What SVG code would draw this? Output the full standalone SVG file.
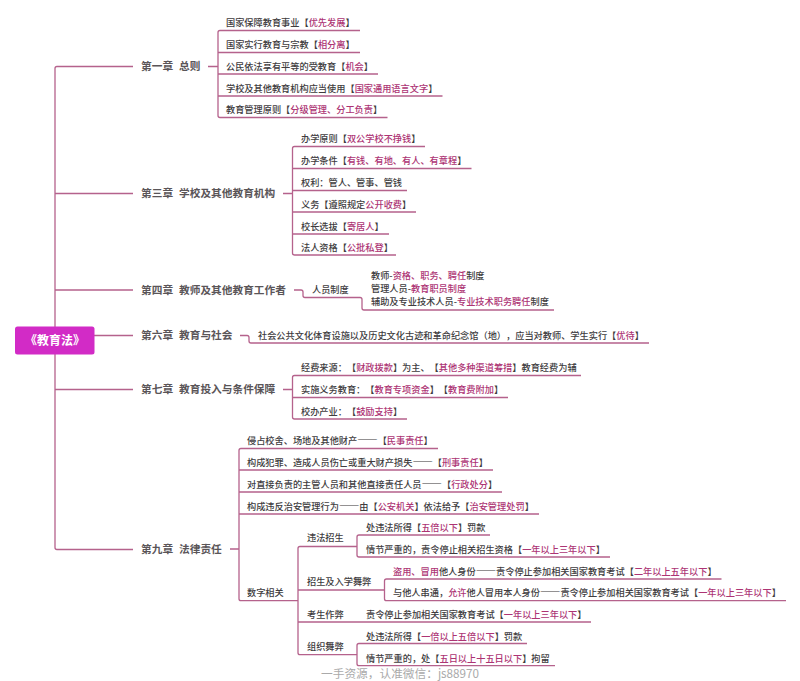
<svg xmlns="http://www.w3.org/2000/svg" width="800" height="681" viewBox="0 0 800 681" xml:lang="zh-CN">
<style>
text{font-family:"Noto Sans CJK SC","Noto Sans",sans-serif;font-size:9.2px;font-weight:500;fill:#403c3e;text-spacing-trim:space-all}
.h{fill:#ad3474}
.d{font-feature-settings:"fwid";font-size:10.2px}
.c{font-size:10.7px;font-weight:700;fill:#5a5558}
.r{font-size:12px;font-weight:700;fill:#fff;text-anchor:middle}
.w{font-size:11.7px;font-weight:400;fill:#aaa}
#connectors path{fill:none;stroke:#b5628c;stroke-width:1.3}
</style>
<rect width="800" height="681" fill="#fff"/>
<g id="connectors">
<path d="M133 66.5H57q-2 0-2 2V547.500q0 2 2 2H133M55 193.500H133M55 290H133M94 335.500H133M55 389.500H133"/>
<path d="M208 66.500H218M360 30.500H220q-2 0-2 2V115.500q0 2 2 2H387.500M218 52.500H360M218 74H378M218 96H442.500"/>
<path d="M283 193.500H292.500M425 146.500H294.500q-2 0-2 2V253q0 2 2 2H396M292.500 168.500H471.500M292.500 190.500H407M292.500 212H416M292.500 234H389"/>
<path d="M294 290H301q2 0 2 2V295.500q0 2 2 2H360q2 0 2 2V308q0 2 2 2H554"/>
<path d="M240 335.500H247q2 0 2 2V341q0 2 2 2H649"/>
<path d="M283 389.500H292.500M581 375.500H294.500q-2 0-2 2V417q0 2 2 2H407M292.500 397.500H508"/>
<path d="M230 549H239M438 448.500H241q-2 0-2 2V598.700q0 2 2 2H298M239 470H493M239 492H502M239 514H539"/>
<path d="M357 546.500H300q-2 0-2 2V652.700q0 2 2 2H357M298 590H384.500M298 622H591"/>
<path d="M490 535H359q-2 0-2 2V555q0 2 2 2H610"/>
<path d="M721.500 579H386.500q-2 0-2 2V598.700q0 2 2 2H786"/>
<path d="M527 643.500H359q-2 0-2 2V663.700q0 2 2 2H555"/>
</g>
<g id="root"><rect x="15" y="326.500" width="79.500" height="28" rx="2.500" fill="#d22bc6"/><text class="r" x="55" y="345">《教育法》</text></g>

<g id="ch1"><text class="c" x="141" y="70">第一章<tspan x="179">总则</tspan></text>
<text x="226" y="26.300">国家保障教育事业【<tspan class="h">优先发展</tspan>】</text>
<text x="226" y="48.300">国家实行教育与宗教【<tspan class="h">相分离</tspan>】</text>
<text x="226" y="69.800">公民依法享有平等的受教育【<tspan class="h">机会</tspan>】</text>
<text x="226" y="91.800">学校及其他教育机构应当使用【<tspan class="h">国家通用语言文字</tspan>】</text>
<text x="226" y="113.300">教育管理原则【<tspan class="h">分级管理、分工负责</tspan>】</text></g>

<g id="ch3"><text class="c" x="141" y="197">第三章<tspan x="179">学校及其他教育机构</tspan></text>
<text x="301" y="142.300">办学原则【<tspan class="h">双公学校不挣钱</tspan>】</text>
<text x="301" y="164.300">办学条件【<tspan class="h">有钱、有地、有人、有章程</tspan>】</text>
<text x="301" y="186.300">权利：管人、管事、管钱</text>
<text x="301" y="208.300">义务【遵照规定<tspan class="h">公开收费</tspan>】</text>
<text x="301" y="230">校长选拔【<tspan class="h">寄居人</tspan>】</text>
<text x="301" y="251.300">法人资格【<tspan class="h">公批私登</tspan>】</text></g>

<g id="ch4"><text class="c" x="141" y="293.800">第四章<tspan x="179">教师及其他教育工作者</tspan></text>
<text x="312" y="293.300">人员制度</text>
<text x="371" y="279.300">教师-<tspan class="h">资格、职务、聘任</tspan>制度</text>
<text x="371" y="292.300">管理人员-<tspan class="h">教育职员制度</tspan></text>
<text x="371" y="305.300">辅助及专业技术人员-<tspan class="h">专业技术职务聘任</tspan>制度</text></g>

<g id="ch6"><text class="c" x="141" y="339.300">第六章<tspan x="179">教育与社会</tspan></text>
<text x="258" y="339.300">社会公共文化体育设施以及历史文化古迹和革命纪念馆（地），应当对教师、学生实行【<tspan class="h">优待</tspan>】</text></g>

<g id="ch7"><text class="c" x="141" y="393.300">第七章<tspan x="179">教育投入与条件保障</tspan></text>
<text x="301" y="371.300">经费来源：【<tspan class="h">财政拨款</tspan>】为主、【<tspan class="h">其他多种渠道筹措</tspan>】教育经费为辅</text>
<text x="301" y="393.300">实施义务教育：【<tspan class="h">教育专项资金</tspan>】【<tspan class="h">教育费附加</tspan>】</text>
<text x="301" y="415.300">校办产业：【<tspan class="h">鼓励支持</tspan>】</text></g>

<g id="ch9"><text class="c" x="141" y="553">第九章<tspan x="179">法律责任</tspan></text>
<text x="247" y="444.300">侵占校舍、场地及其他财产<tspan class="d">——</tspan>【<tspan class="h">民事责任</tspan>】</text>
<text x="247" y="466.300">构成犯罪、造成人员伤亡或重大财产损失<tspan class="d">——</tspan>【<tspan class="h">刑事责任</tspan>】</text>
<text x="247" y="488.300">对直接负责的主管人员和其他直接责任人员<tspan class="d">——</tspan>【<tspan class="h">行政处分</tspan>】</text>
<text x="247" y="510">构成违反治安管理行为<tspan class="d">——</tspan>由【<tspan class="h">公安机关</tspan>】依法给予【<tspan class="h">治安管理处罚</tspan>】</text>
<text x="247" y="596.300">数字相关</text>
<text x="307" y="541.300">违法招生</text>
<text x="366" y="531.300">处违法所得【<tspan class="h">五倍以下</tspan>】罚款</text>
<text x="366" y="552.800">情节严重的，责令停止相关招生资格【<tspan class="h">一年以上三年以下</tspan>】</text>
<text x="307" y="585.300">招生及入学舞弊</text>
<text x="393" y="574.500"><tspan class="h">盗用、冒用</tspan>他人身份<tspan class="d">——</tspan>责令停止参加相关国家教育考试【<tspan class="h">二年以上五年以下</tspan>】</text>
<text x="393" y="596.300">与他人串通，<tspan class="h">允许</tspan>他人冒用本人身份<tspan class="d">——</tspan>责令停止参加相关国家教育考试【<tspan class="h">一年以上三年以下</tspan>】</text>
<text x="307" y="617.800">考生作弊</text>
<text x="366" y="617.800">责令停止参加相关国家教育考试【<tspan class="h">一年以上三年以下</tspan>】</text>
<text x="307" y="650.300">组织舞弊</text>
<text x="366" y="639.500">处违法所得【<tspan class="h">一倍以上五倍以下</tspan>】罚款</text>
<text x="366" y="661.500">情节严重的，处【<tspan class="h">五日以上十五日以下</tspan>】拘留</text></g>

<text class="w" x="321" y="678">一手资源，认准微信：js88970</text>
</svg>
